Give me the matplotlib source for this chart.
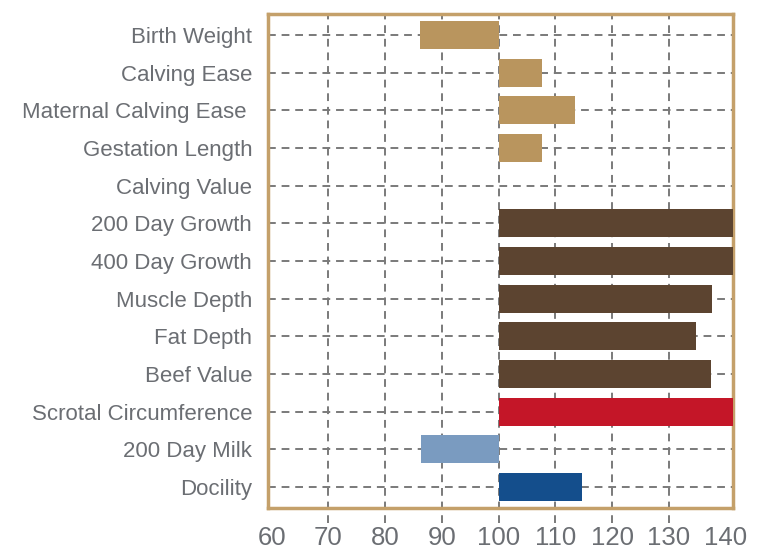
import matplotlib
matplotlib.use("Agg")
import matplotlib.pyplot as plt

traits = ["Birth Weight", "Calving Ease", "Maternal Calving Ease ", "Gestation Length",
          "Calving Value", "200 Day Growth", "400 Day Growth", "Muscle Depth",
          "Fat Depth", "Beef Value", "Scrotal Circumference", "200 Day Milk", "Docility"]
index_vals = [86.2, 107.7, 113.4, 107.7, 100, 142, 142, 137.6, 134.7, 137.4, 142, 86.4, 114.7]
bar_colors = ["#B9955E"] * 5 + ["#5C4430"] * 5 + ["#C41628", "#7A9BC0", "#144E8C"]
xticks = [60, 70, 80, 90, 100, 110, 120, 130, 140]

plt.rcParams["font.family"] = ["Liberation Sans", "DejaVu Sans"]
text_col = "#6B6E73"
grid_col = "#7A7A7A"

fig = plt.figure(figsize=(7.64, 5.57), dpi=100)
ax = fig.add_axes([0.351, 0.088, 0.608, 0.887])

ypos = list(range(len(traits)))
ax.barh(ypos, [v - 100 for v in index_vals], left=100, height=0.74,
        color=bar_colors, zorder=3)

# dashed grid, vertical lines run a little below the frame
for y in ypos:
    ax.axhline(y, color=grid_col, lw=1.4, ls=(0, (4, 3)), zorder=1)
for x in xticks[1:-1]:
    ax.axvline(x, ymin=-0.03, ymax=1, color=grid_col, lw=1.4, ls=(0, (4, 3)),
               zorder=1, clip_on=False)

ax.set_xlim(59.4, 141.25)
ax.set_ylim(12.56, -0.56)
ax.set_xticks(xticks)
ax.set_xticklabels([str(t) for t in xticks], fontsize=18.5, color=text_col)
ax.set_yticks(ypos)
ax.set_yticklabels(traits, fontsize=16, color=text_col)
ax.tick_params(axis="both", length=0)
ax.tick_params(axis="y", pad=11.5)
ax.tick_params(axis="x", pad=13)

for s in ax.spines.values():
    s.set_color("#C4A06A")
    s.set_linewidth(2.5)
    s.set_zorder(2)

fig.savefig("out.png", dpi=100)
